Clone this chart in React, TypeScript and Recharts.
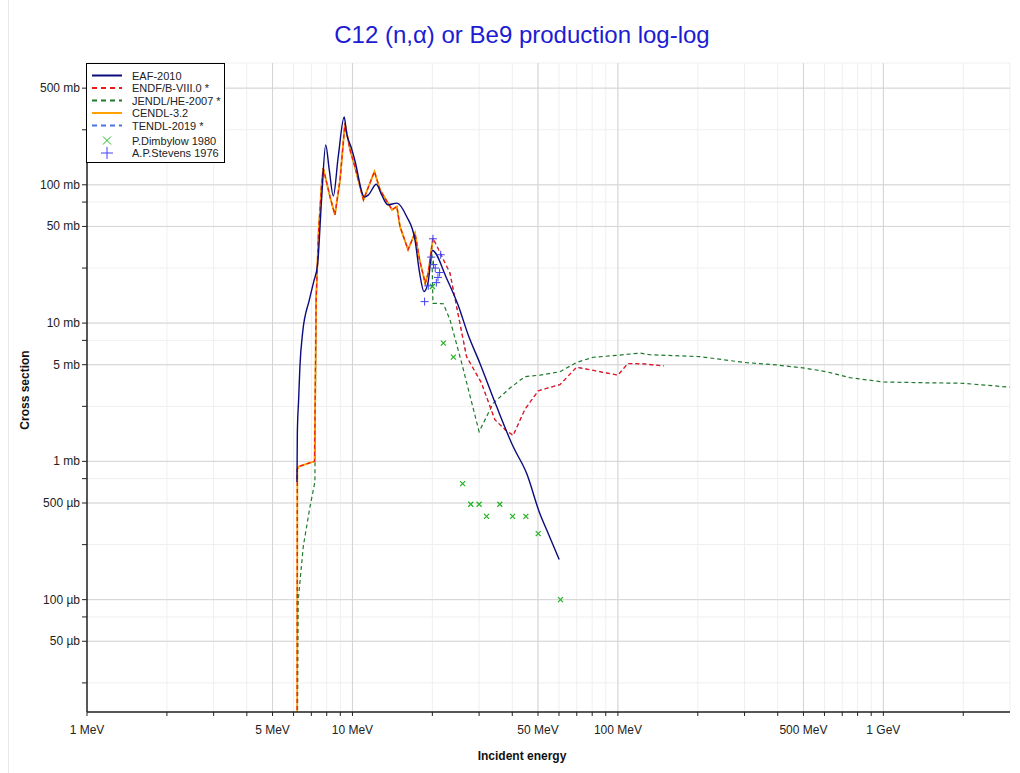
import React from 'react'
import {
  ComposedChart,
  Line,
  Scatter,
  XAxis,
  YAxis,
  CartesianGrid,
  ReferenceLine,
} from 'recharts'

// Incident energy (MeV) / cross section (mb)
const EAF_E = [6.18, 6.2, 6.27, 6.34, 6.49, 6.88, 7.15, 7.39, 7.65, 7.93, 8.18, 8.47, 8.84, 9.31, 9.5, 9.87, 10.2, 11.1, 11.5, 12.3, 12.9, 13.6, 14.7, 16.0, 17.2, 17.9, 18.6, 19.3, 20.0, 22.6, 25.0, 27.3, 30.2, 34.9, 40.3, 45.3, 50.8, 53.9, 60.1]
const EAF_XS = [0.71, 1.6, 2.8, 4.86, 8.5, 14.7, 20, 26.5, 78, 194, 128, 83, 160, 309, 236, 189, 151, 81.5, 84.7, 101, 84, 71.7, 73.7, 59, 40, 23.2, 16.9, 20, 33.5, 21.2, 13.5, 8.2, 5.13, 2.5, 1.28, 0.82, 0.42, 0.32, 0.195]

const ENDF_E = [6.19, 6.2, 6.3, 7.18, 7.2, 7.3, 7.45, 7.65, 7.76, 8.23, 8.59, 8.98, 9.37, 9.79, 10.2, 11.0, 12.1, 12.7, 14.1, 14.7, 15.1, 16.2, 17.2, 17.9, 18.8, 19.3, 19.9, 20.1, 23.3, 26.9, 30.6, 34.4, 37.5, 40.3, 44.6, 50.1, 60.5, 69.9, 85.5, 100, 109, 124.6, 149]
const ENDF_XS = [0.01, 0.88, 0.92, 1.0, 1.0, 15, 45, 100, 132, 82, 60.6, 108.7, 279, 179, 136, 77.9, 124.8, 92, 65.9, 69.7, 50, 33.9, 44.8, 28.7, 19.4, 23, 35.8, 41.2, 23, 5.72, 3.7, 2.0, 1.7, 1.54, 2.37, 3.24, 3.59, 4.8, 4.45, 4.2, 5.1, 5.07, 4.9]

const JENDL_LOW_E = [6.2, 6.25, 6.53, 6.92, 7.22]
const JENDL_LOW_XS = [0.01, 0.1, 0.244, 0.47, 0.71]
const JENDL_HIGH_E = [20.1, 22, 23.3, 25.8, 30.0, 33.9, 39.2, 44.6, 50.8, 60.5, 70, 80.7, 100, 121, 132, 204, 297, 396, 506, 610, 748, 998, 1452, 1996, 2993]
const JENDL_HIGH_XS = [13.9, 13.8, 10.6, 5.13, 1.64, 2.63, 3.39, 4.1, 4.2, 4.45, 5.2, 5.66, 5.85, 6.07, 5.9, 5.72, 5.2, 4.98, 4.72, 4.45, 4.03, 3.75, 3.7, 3.67, 3.44]

const DIMBYLOW_E = [20.0, 22.0, 24.0, 26.0, 27.9, 30.0, 32.0, 35.9, 40.1, 45.0, 50.1, 60.8]
const DIMBYLOW_XS = [18.4, 7.17, 5.67, 0.69, 0.49, 0.49, 0.4, 0.49, 0.4, 0.4, 0.3, 0.1]

const STEVENS_E = [18.7, 19.3, 19.8, 20.1, 20.2, 20.5, 20.7, 21.0, 21.3, 21.5]
const STEVENS_XS = [14.3, 18.6, 30.0, 40.7, 26.5, 25.0, 19.6, 21.4, 23.2, 31.2]

const X_TICKS = [1, 2, 3, 4, 5, 6, 7, 8, 9, 10, 20, 30, 40, 50, 60, 70, 80, 90, 100, 200, 300, 400, 500, 600, 700, 800, 900, 1000, 2000]
const X_LABELS: Record<number, string> = { 1: '1 MeV', 5: '5 MeV', 10: '10 MeV', 50: '50 MeV', 100: '100 MeV', 500: '500 MeV', 1000: '1 GeV' }
const Y_TICKS = [0.025, 0.05, 0.075, 0.1, 0.25, 0.5, 0.75, 1, 2.5, 5, 7.5, 10, 25, 50, 75, 100, 250, 500]
const Y_MAJOR = [0.05, 0.1, 0.5, 1, 5, 10, 50, 100, 500]
const X_MAJOR = [5, 10, 50, 100, 500, 1000]

const toPoints = (e: number[], xs: number[]) => e.map((v, i) => ({ e: v, xs: xs[i] }))

const eaf = toPoints(EAF_E, EAF_XS)
const endf = toPoints(ENDF_E, ENDF_XS)
const cendl = endf.filter((p) => p.e <= 20.1)
const jendl = [
  ...toPoints(JENDL_LOW_E, JENDL_LOW_XS),
  ...endf.filter((p) => p.e >= 7.3 && p.e < 20.1),
  ...toPoints(JENDL_HIGH_E, JENDL_HIGH_XS),
]
const dimbylow = toPoints(DIMBYLOW_E, DIMBYLOW_XS)
const stevens = toPoints(STEVENS_E, STEVENS_XS)

const FONT = '"Liberation Sans", Arial, sans-serif'
const NAVY = '#0b0b7e'
const RED = '#f01818'
const GREEN = '#1f7a2e'
const ORANGE = '#ffa200'
const BLUE = '#4a72e0'
const PT_GREEN = '#22b322'
const PT_BLUE = '#4040f0'

const fmtY = (v: number) => (v >= 1 ? `${v} mb` : `${Math.round(v * 1000)} µb`)

const XTick = ({ x, y, payload }: any) => {
  const label = X_LABELS[payload.value]
  if (!label) return <g />
  return (
    <text x={x} y={y + 16} textAnchor="middle" fontSize={12} fill="#222" fontFamily={FONT}>
      {label}
    </text>
  )
}

const YTick = ({ x, y, payload }: any) => {
  if (!Y_MAJOR.includes(payload.value)) return <g />
  return (
    <text x={x} y={y + 4} textAnchor="end" fontSize={12} fill="#222" fontFamily={FONT}>
      {fmtY(payload.value)}
    </text>
  )
}

const Cross = ({ cx, cy }: any) => (
  <path d={`M${cx - 2.5},${cy - 2.5}L${cx + 2.5},${cy + 2.5}M${cx - 2.5},${cy + 2.5}L${cx + 2.5},${cy - 2.5}`} stroke={PT_GREEN} strokeWidth={1.2} />
)
const Plus = ({ cx, cy }: any) => (
  <path d={`M${cx - 4},${cy}L${cx + 4},${cy}M${cx},${cy - 4}L${cx},${cy + 4}`} stroke={PT_BLUE} strokeWidth={1} />
)

const LEGEND = [
  { name: 'EAF-2010', kind: 'solid', color: NAVY },
  { name: 'ENDF/B-VIII.0 *', kind: 'dash', color: RED },
  { name: 'JENDL/HE-2007 *', kind: 'dash', color: GREEN },
  { name: 'CENDL-3.2', kind: 'solid', color: ORANGE },
  { name: 'TENDL-2019 *', kind: 'dash', color: BLUE },
  { name: 'P.Dimbylow 1980', kind: 'x', color: PT_GREEN },
  { name: 'A.P.Stevens 1976', kind: 'plus', color: PT_BLUE },
]
const LEGEND_ROWS = [12.5, 25, 37.5, 50, 62.5, 77.5, 90]

function LegendBox() {
  return (
    <svg width={139} height={100} style={{ position: 'absolute', left: 86, top: 63 }}>
      <rect x={0.5} y={0.5} width={138} height={99} fill="#fff" stroke="#000" strokeWidth={1} />
      {LEGEND.map((item, i) => {
        const y = LEGEND_ROWS[i]
        return (
          <g key={item.name}>
            {item.kind === 'solid' && <line x1={6} x2={36} y1={y} y2={y} stroke={item.color} strokeWidth={2} />}
            {item.kind === 'dash' && <line x1={6} x2={36} y1={y} y2={y} stroke={item.color} strokeWidth={2} strokeDasharray="5 4" />}
            {item.kind === 'x' && (
              <path d={`M17,${y - 4}L25,${y + 4}M17,${y + 4}L25,${y - 4}`} stroke={item.color} strokeWidth={1} />
            )}
            {item.kind === 'plus' && (
              <path d={`M15,${y}L27,${y}M21,${y - 6}L21,${y + 6}`} stroke={item.color} strokeWidth={1} />
            )}
            <text x={46} y={y + 4} fontSize={11} fill="#222" fontFamily={FONT}>
              {item.name}
            </text>
          </g>
        )
      })}
    </svg>
  )
}

export default function App() {
  return (
    <div style={{ position: 'absolute', left: 0, top: 0, width: 1020, height: 773, background: '#fff', fontFamily: FONT }}>
      <div style={{ position: 'absolute', left: 8, top: 0, width: 1, height: 773, background: '#e8e8e8' }} />
      <div style={{ position: 'absolute', left: 0, top: 20, width: 1044, textAlign: 'center', fontSize: 24, lineHeight: '30px', color: '#1c1cd2' }}>
        C12 (n,α) or Be9 production log-log
      </div>
      <ComposedChart width={1020} height={773} margin={{ top: 63, right: 10, bottom: 0, left: 0 }}>
        <CartesianGrid stroke="#efefef" />
        {X_MAJOR.map((v) => (
          <ReferenceLine key={`x${v}`} x={v} stroke="#d4d4d4" />
        ))}
        {Y_MAJOR.map((v) => (
          <ReferenceLine key={`y${v}`} y={v} stroke="#d4d4d4" />
        ))}
        <XAxis
          dataKey="e"
          type="number"
          scale="log"
          domain={[1, 3000]}
          allowDataOverflow
          ticks={X_TICKS}
          interval={0}
          height={61}
          tickSize={4}
          tick={<XTick />}
          axisLine={{ stroke: '#222', strokeWidth: 1.5 }}
          tickLine={{ stroke: '#222' }}
        />
        <XAxis
          xAxisId="top"
          orientation="top"
          type="number"
          scale="log"
          domain={[1, 3000]}
          allowDataOverflow
          ticks={X_TICKS}
          interval={0}
          height={0}
          mirror
          tickSize={4}
          tick={false}
          axisLine={{ stroke: '#000' }}
          tickLine={{ stroke: '#555' }}
        />
        <YAxis
          dataKey="xs"
          type="number"
          scale="log"
          domain={[0.0154, 760]}
          allowDataOverflow
          ticks={Y_TICKS}
          interval={0}
          width={87}
          tickSize={5}
          tick={<YTick />}
          axisLine={{ stroke: '#222', strokeWidth: 1.5 }}
          tickLine={{ stroke: '#222' }}
        />
        <YAxis
          yAxisId="right"
          orientation="right"
          type="number"
          scale="log"
          domain={[0.0154, 760]}
          allowDataOverflow
          ticks={Y_TICKS}
          interval={0}
          width={0}
          mirror
          tickSize={4}
          tick={false}
          axisLine={{ stroke: '#444', strokeWidth: 2.5 }}
          tickLine={{ stroke: '#444' }}
        />
        <Line data={jendl} dataKey="xs" type="linear" stroke={GREEN} strokeWidth={1.2} strokeDasharray="4 3" dot={false} isAnimationActive={false} />
        <Line data={endf} dataKey="xs" type="linear" stroke={BLUE} strokeWidth={1} strokeDasharray="4 3" dot={false} isAnimationActive={false} />
        <Line data={cendl} dataKey="xs" type="linear" stroke={ORANGE} strokeWidth={1.8} dot={false} isAnimationActive={false} />
        <Line data={endf} dataKey="xs" type="linear" stroke={RED} strokeWidth={1.3} strokeDasharray="4 3" dot={false} isAnimationActive={false} />
        <Line data={eaf} dataKey="xs" type="monotone" stroke={NAVY} strokeWidth={1.4} dot={false} isAnimationActive={false} />
        <Scatter data={dimbylow} dataKey="xs" shape={<Cross />} isAnimationActive={false} />
        <Scatter data={stevens} dataKey="xs" shape={<Plus />} isAnimationActive={false} />
      </ComposedChart>
      <LegendBox />
      <div
        style={{
          position: 'absolute',
          left: 25,
          top: 390,
          transform: 'translate(-50%, -50%) rotate(-90deg)',
          fontSize: 12,
          fontWeight: 'bold',
          color: '#111',
          whiteSpace: 'nowrap',
        }}
      >
        Cross section
      </div>
      <div
        style={{
          position: 'absolute',
          left: 0,
          top: 749,
          width: 1044,
          textAlign: 'center',
          fontSize: 12,
          fontWeight: 'bold',
          color: '#111',
        }}
      >
        Incident energy
      </div>
    </div>
  )
}
